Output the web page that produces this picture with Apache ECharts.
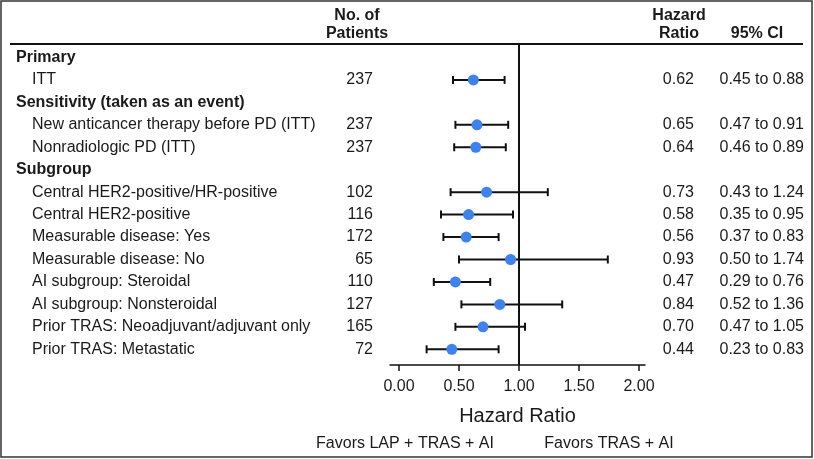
<!DOCTYPE html>
<html>
<head>
<meta charset="utf-8">
<script src="https://cdn.jsdelivr.net/npm/echarts@6/dist/echarts.min.js"></script>
<style>
    html, body { margin: 0; padding: 0; background: #fff; }
    #chart { width: 814px; height: 459px; }
</style>
</head>
<body>
<div id="chart"></div>
<script>
// rows top to bottom, section headers included
const rowLabels = [
    'Primary',
    'ITT',
    'Sensitivity (taken as an event)',
    'New anticancer therapy before PD (ITT)',
    'Nonradiologic PD (ITT)',
    'Subgroup',
    'Central HER2-positive/HR-positive',
    'Central HER2-positive',
    'Measurable disease: Yes',
    'Measurable disease: No',
    'AI subgroup: Steroidal',
    'AI subgroup: Nonsteroidal',
    'Prior TRAS: Neoadjuvant/adjuvant only',
    'Prior TRAS: Metastatic'
]
const isHeader = [1, 0, 1, 0, 0, 1, 0, 0, 0, 0, 0, 0, 0, 0]
const patients = ['', '237', '', '237', '237', '', '102', '116', '172', '65', '110', '127', '165', '72']
const hazard = [null, 0.62, null, 0.65, 0.64, null, 0.73, 0.58, 0.56, 0.93, 0.47, 0.84, 0.70, 0.44]
const ciLow = [null, 0.45, null, 0.47, 0.46, null, 0.43, 0.35, 0.37, 0.50, 0.29, 0.52, 0.47, 0.23]
const ciHigh = [null, 0.88, null, 0.91, 0.89, null, 1.24, 0.95, 0.83, 1.74, 0.76, 1.36, 1.05, 0.83]
const xTicks = [0, 0.5, 1, 1.5, 2]

const rowIdx = rowLabels.map((_, i) => i)
const txt = '#1a1a1a'
const font = 'Liberation Sans, Arial, sans-serif'

const dots = []
const bars = []
hazard.forEach((v, i) => {
    if (v === null) return
    dots.push([v, i])
    bars.push([ciLow[i], ciHigh[i], i])
})

// y axes share the same value scale, each one carries a text column
const yBase = {
    type: 'value',
    inverse: true,
    min: -0.6,
    max: 13.7,
    axisLine: { show: false },
    axisTick: { show: false },
    splitLine: { show: false }
}

const chart = echarts.init(document.getElementById('chart'))

const option = {
    animation: false,
    textStyle: { fontFamily: font },
    grid: { left: 390, right: 169, top: 44, bottom: 94 },
    xAxis: {
        type: 'value',
        min: -0.075,
        max: 2.05,
        splitLine: { show: false },
        axisLine: { onZero: false, lineStyle: { color: '#111', width: 1.5 } },
        axisTick: { customValues: xTicks, length: 6, lineStyle: { color: '#111', width: 1.5 } },
        axisLabel: {
            customValues: xTicks,
            formatter: v => v.toFixed(2),
            color: txt, fontSize: 16, margin: 14
        },
        name: 'Hazard Ratio',
        nameLocation: 'middle',
        nameGap: 41,
        nameTextStyle: { color: txt, fontSize: 20 }
    },
    yAxis: [
        Object.assign({}, yBase, {
            axisLabel: {
                customValues: rowIdx,
                align: 'left',
                margin: 374,
                formatter: v => isHeader[v] ? '{h|' + rowLabels[v] + '}' : '{n|' + rowLabels[v] + '}',
                rich: {
                    h: { fontWeight: 'bold', fontSize: 16, color: txt, fontFamily: font },
                    n: { fontSize: 16, color: txt, padding: [0, 0, 0, 16], fontFamily: font }
                }
            }
        }),
        Object.assign({}, yBase, {
            position: 'left',
            axisLabel: {
                customValues: rowIdx,
                align: 'right',
                margin: 17,
                color: txt, fontSize: 16,
                formatter: v => patients[v]
            }
        }),
        Object.assign({}, yBase, {
            position: 'right',
            axisLabel: {
                customValues: rowIdx,
                align: 'right',
                margin: 49,
                color: txt, fontSize: 16,
                formatter: v => hazard[v] === null ? '' : hazard[v].toFixed(2)
            }
        }),
        Object.assign({}, yBase, {
            position: 'right',
            axisLabel: {
                customValues: rowIdx,
                align: 'right',
                margin: 159,
                color: txt, fontSize: 16,
                formatter: v => hazard[v] === null ? '' : ciLow[v].toFixed(2) + ' to ' + ciHigh[v].toFixed(2)
            }
        })
    ],
    graphic: [
        { type: 'rect', shape: { x: 1, y: 1, width: 811, height: 456 },
          style: { fill: 'none', stroke: '#333', lineWidth: 1.5 }, silent: true },
        { type: 'line', shape: { x1: 10, y1: 44, x2: 803, y2: 44 },
          style: { stroke: '#111', lineWidth: 2 } },
        { type: 'text', x: 357, y: 16, style: { text: 'No. of', font: 'bold 16px ' + font, fill: txt, textAlign: 'center', textVerticalAlign: 'middle' } },
        { type: 'text', x: 357, y: 34, style: { text: 'Patients', font: 'bold 16px ' + font, fill: txt, textAlign: 'center', textVerticalAlign: 'middle' } },
        { type: 'text', x: 679, y: 16, style: { text: 'Hazard', font: 'bold 16px ' + font, fill: txt, textAlign: 'center', textVerticalAlign: 'middle' } },
        { type: 'text', x: 679, y: 34, style: { text: 'Ratio', font: 'bold 16px ' + font, fill: txt, textAlign: 'center', textVerticalAlign: 'middle' } },
        { type: 'text', x: 757, y: 34, style: { text: '95% CI', font: 'bold 16px ' + font, fill: txt, textAlign: 'center', textVerticalAlign: 'middle' } },
        { type: 'text', x: 405, y: 444, style: { text: 'Favors LAP + TRAS + AI', font: '16px ' + font, fill: txt, textAlign: 'center', textVerticalAlign: 'middle' } },
        { type: 'text', x: 609, y: 444, style: { text: 'Favors TRAS + AI', font: '16px ' + font, fill: txt, textAlign: 'center', textVerticalAlign: 'middle' } }
    ],
    series: [
        {
            type: 'custom',
            yAxisIndex: 0,
            data: bars,
            renderItem: (params, api) => {
                const a = api.coord([api.value(0), api.value(2)])
                const b = api.coord([api.value(1), api.value(2)])
                const cap = 4
                const st = { stroke: '#111', lineWidth: 2 }
                return {
                    type: 'group',
                    children: [
                        { type: 'line', shape: { x1: a[0], y1: a[1], x2: b[0], y2: b[1] }, style: st },
                        { type: 'line', shape: { x1: a[0], y1: a[1] - cap, x2: a[0], y2: a[1] + cap }, style: st },
                        { type: 'line', shape: { x1: b[0], y1: b[1] - cap, x2: b[0], y2: b[1] + cap }, style: st }
                    ]
                }
            },
            z: 2
        },
        {
            type: 'scatter',
            yAxisIndex: 0,
            data: dots,
            symbolSize: 11,
            itemStyle: { color: '#3b82f6', opacity: 1 },
            z: 3,
            markLine: {
                silent: true,
                symbol: 'none',
                label: { show: false },
                lineStyle: { color: '#111', width: 2, type: 'solid' },
                data: [{ xAxis: 1 }]
            }
        }
    ]
}

chart.setOption(option)
</script>
</body>
</html>
